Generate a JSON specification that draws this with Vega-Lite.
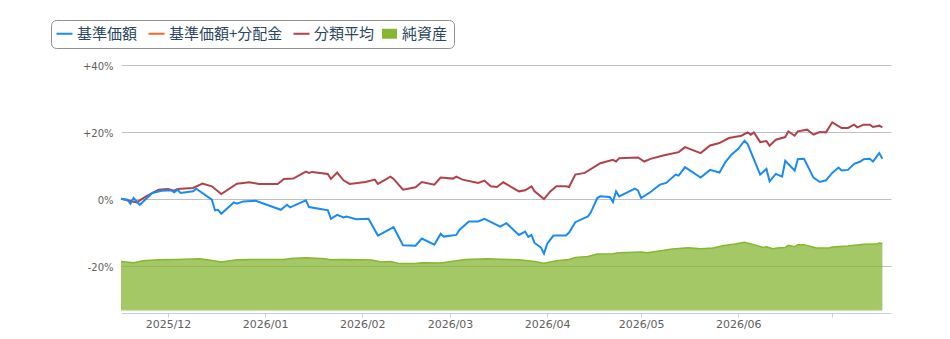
{
  "$schema": "https://vega.github.io/schema/vega-lite/v6.json",
  "width": 770,
  "height": 248,
  "autosize": {"type": "none"},
  "padding": {"left": 121, "top": 65, "right": 59, "bottom": 26},
  "background": "white",
  "config": {"view": {"stroke": null}, "font": "DejaVu Sans"},
  "data": {"values": [
    {"d": "2025/11/16", "s": "基準価額", "v": 0.1},
    {"d": "2025/11/18", "s": "基準価額", "v": -0.2},
    {"d": "2025/11/19", "s": "基準価額", "v": -1.4},
    {"d": "2025/11/20", "s": "基準価額", "v": 0.3},
    {"d": "2025/11/22", "s": "基準価額", "v": -1.7},
    {"d": "2025/11/26", "s": "基準価額", "v": 1.8},
    {"d": "2025/11/29", "s": "基準価額", "v": 2.5},
    {"d": "2025/12/02", "s": "基準価額", "v": 2.6},
    {"d": "2025/12/03", "s": "基準価額", "v": 2.0},
    {"d": "2025/12/04", "s": "基準価額", "v": 2.8},
    {"d": "2025/12/05", "s": "基準価額", "v": 1.8},
    {"d": "2025/12/09", "s": "基準価額", "v": 2.3},
    {"d": "2025/12/10", "s": "基準価額", "v": 3.1},
    {"d": "2025/12/15", "s": "基準価額", "v": -0.2},
    {"d": "2025/12/16", "s": "基準価額", "v": -3.4},
    {"d": "2025/12/17", "s": "基準価額", "v": -3.2},
    {"d": "2025/12/18", "s": "基準価額", "v": -4.4},
    {"d": "2025/12/22", "s": "基準価額", "v": -1.0},
    {"d": "2025/12/23", "s": "基準価額", "v": -1.4},
    {"d": "2025/12/25", "s": "基準価額", "v": -0.7},
    {"d": "2025/12/29", "s": "基準価額", "v": -0.5},
    {"d": "2026/01/06", "s": "基準価額", "v": -3.2},
    {"d": "2026/01/08", "s": "基準価額", "v": -1.7},
    {"d": "2026/01/09", "s": "基準価額", "v": -2.5},
    {"d": "2026/01/14", "s": "基準価額", "v": -0.4},
    {"d": "2026/01/15", "s": "基準価額", "v": -2.4},
    {"d": "2026/01/20", "s": "基準価額", "v": -3.2},
    {"d": "2026/01/21", "s": "基準価額", "v": -3.3},
    {"d": "2026/01/22", "s": "基準価額", "v": -5.9},
    {"d": "2026/01/24", "s": "基準価額", "v": -4.7},
    {"d": "2026/01/26", "s": "基準価額", "v": -5.5},
    {"d": "2026/01/27", "s": "基準価額", "v": -5.2},
    {"d": "2026/01/30", "s": "基準価額", "v": -6.0},
    {"d": "2026/02/03", "s": "基準価額", "v": -5.9},
    {"d": "2026/02/06", "s": "基準価額", "v": -10.9},
    {"d": "2026/02/11", "s": "基準価額", "v": -8.4},
    {"d": "2026/02/14", "s": "基準価額", "v": -13.8},
    {"d": "2026/02/18", "s": "基準価額", "v": -13.9},
    {"d": "2026/02/20", "s": "基準価額", "v": -11.8},
    {"d": "2026/02/24", "s": "基準価額", "v": -13.6},
    {"d": "2026/02/26", "s": "基準価額", "v": -10.4},
    {"d": "2026/02/27", "s": "基準価額", "v": -11.2},
    {"d": "2026/03/03", "s": "基準価額", "v": -10.7},
    {"d": "2026/03/04", "s": "基準価額", "v": -9.2},
    {"d": "2026/03/07", "s": "基準価額", "v": -6.7},
    {"d": "2026/03/10", "s": "基準価額", "v": -6.7},
    {"d": "2026/03/12", "s": "基準価額", "v": -5.9},
    {"d": "2026/03/17", "s": "基準価額", "v": -8.2},
    {"d": "2026/03/19", "s": "基準価額", "v": -7.2},
    {"d": "2026/03/23", "s": "基準価額", "v": -10.7},
    {"d": "2026/03/25", "s": "基準価額", "v": -9.7},
    {"d": "2026/03/26", "s": "基準価額", "v": -11.3},
    {"d": "2026/03/27", "s": "基準価額", "v": -10.7},
    {"d": "2026/03/28", "s": "基準価額", "v": -13.1},
    {"d": "2026/03/30", "s": "基準価額", "v": -14.4},
    {"d": "2026/03/31", "s": "基準価額", "v": -16.3},
    {"d": "2026/04/01", "s": "基準価額", "v": -13.4},
    {"d": "2026/04/03", "s": "基準価額", "v": -10.9},
    {"d": "2026/04/07", "s": "基準価額", "v": -10.9},
    {"d": "2026/04/08", "s": "基準価額", "v": -10.0},
    {"d": "2026/04/10", "s": "基準価額", "v": -6.9},
    {"d": "2026/04/14", "s": "基準価額", "v": -5.2},
    {"d": "2026/04/15", "s": "基準価額", "v": -3.9},
    {"d": "2026/04/17", "s": "基準価額", "v": 0.3},
    {"d": "2026/04/18", "s": "基準価額", "v": 0.8},
    {"d": "2026/04/21", "s": "基準価額", "v": 0.6},
    {"d": "2026/04/22", "s": "基準価額", "v": -0.9},
    {"d": "2026/04/23", "s": "基準価額", "v": 2.3},
    {"d": "2026/04/24", "s": "基準価額", "v": 0.8},
    {"d": "2026/04/29", "s": "基準価額", "v": 3.1},
    {"d": "2026/04/30", "s": "基準価額", "v": 2.6},
    {"d": "2026/05/01", "s": "基準価額", "v": 0.3},
    {"d": "2026/05/04", "s": "基準価額", "v": 2.1},
    {"d": "2026/05/07", "s": "基準価額", "v": 4.3},
    {"d": "2026/05/09", "s": "基準価額", "v": 4.8},
    {"d": "2026/05/12", "s": "基準価額", "v": 7.3},
    {"d": "2026/05/13", "s": "基準価額", "v": 7.0},
    {"d": "2026/05/15", "s": "基準価額", "v": 9.5},
    {"d": "2026/05/20", "s": "基準価額", "v": 6.4},
    {"d": "2026/05/23", "s": "基準価額", "v": 8.7},
    {"d": "2026/05/26", "s": "基準価額", "v": 7.9},
    {"d": "2026/05/28", "s": "基準価額", "v": 11.2},
    {"d": "2026/05/30", "s": "基準価額", "v": 13.4},
    {"d": "2026/06/01", "s": "基準価額", "v": 15.0},
    {"d": "2026/06/03", "s": "基準価額", "v": 17.4},
    {"d": "2026/06/04", "s": "基準価額", "v": 16.4},
    {"d": "2026/06/08", "s": "基準価額", "v": 7.3},
    {"d": "2026/06/10", "s": "基準価額", "v": 9.0},
    {"d": "2026/06/11", "s": "基準価額", "v": 5.3},
    {"d": "2026/06/13", "s": "基準価額", "v": 7.5},
    {"d": "2026/06/15", "s": "基準価額", "v": 6.7},
    {"d": "2026/06/16", "s": "基準価額", "v": 11.4},
    {"d": "2026/06/19", "s": "基準価額", "v": 8.5},
    {"d": "2026/06/20", "s": "基準価額", "v": 11.9},
    {"d": "2026/06/22", "s": "基準価額", "v": 12.0},
    {"d": "2026/06/25", "s": "基準価額", "v": 6.4},
    {"d": "2026/06/27", "s": "基準価額", "v": 5.1},
    {"d": "2026/06/29", "s": "基準価額", "v": 5.6},
    {"d": "2026/07/01", "s": "基準価額", "v": 7.8},
    {"d": "2026/07/03", "s": "基準価額", "v": 9.4},
    {"d": "2026/07/04", "s": "基準価額", "v": 8.5},
    {"d": "2026/07/06", "s": "基準価額", "v": 8.7},
    {"d": "2026/07/08", "s": "基準価額", "v": 10.5},
    {"d": "2026/07/10", "s": "基準価額", "v": 11.2},
    {"d": "2026/07/11", "s": "基準価額", "v": 11.9},
    {"d": "2026/07/13", "s": "基準価額", "v": 12.0},
    {"d": "2026/07/14", "s": "基準価額", "v": 11.2},
    {"d": "2026/07/16", "s": "基準価額", "v": 13.7},
    {"d": "2026/07/17", "s": "基準価額", "v": 12.0},

    {"d": "2025/11/16", "s": "分類平均", "v": 0.1},
    {"d": "2025/11/21", "s": "分類平均", "v": -1.0},
    {"d": "2025/11/24", "s": "分類平均", "v": 0.8},
    {"d": "2025/11/28", "s": "分類平均", "v": 2.8},
    {"d": "2025/12/01", "s": "分類平均", "v": 3.0},
    {"d": "2025/12/03", "s": "分類平均", "v": 2.5},
    {"d": "2025/12/04", "s": "分類平均", "v": 3.0},
    {"d": "2025/12/09", "s": "分類平均", "v": 3.3},
    {"d": "2025/12/12", "s": "分類平均", "v": 4.6},
    {"d": "2025/12/15", "s": "分類平均", "v": 3.8},
    {"d": "2025/12/18", "s": "分類平均", "v": 1.5},
    {"d": "2025/12/23", "s": "分類平均", "v": 4.6},
    {"d": "2025/12/27", "s": "分類平均", "v": 5.0},
    {"d": "2025/12/30", "s": "分類平均", "v": 4.5},
    {"d": "2026/01/05", "s": "分類平均", "v": 4.5},
    {"d": "2026/01/07", "s": "分類平均", "v": 6.0},
    {"d": "2026/01/10", "s": "分類平均", "v": 6.1},
    {"d": "2026/01/14", "s": "分類平均", "v": 8.2},
    {"d": "2026/01/15", "s": "分類平均", "v": 7.8},
    {"d": "2026/01/16", "s": "分類平均", "v": 8.1},
    {"d": "2026/01/21", "s": "分類平均", "v": 7.5},
    {"d": "2026/01/22", "s": "分類平均", "v": 6.0},
    {"d": "2026/01/24", "s": "分類平均", "v": 7.9},
    {"d": "2026/01/26", "s": "分類平均", "v": 5.6},
    {"d": "2026/01/28", "s": "分類平均", "v": 4.5},
    {"d": "2026/02/02", "s": "分類平均", "v": 5.1},
    {"d": "2026/02/05", "s": "分類平均", "v": 5.8},
    {"d": "2026/02/06", "s": "分類平均", "v": 4.5},
    {"d": "2026/02/10", "s": "分類平均", "v": 6.7},
    {"d": "2026/02/11", "s": "分類平均", "v": 6.0},
    {"d": "2026/02/14", "s": "分類平均", "v": 2.8},
    {"d": "2026/02/18", "s": "分類平均", "v": 3.5},
    {"d": "2026/02/20", "s": "分類平均", "v": 5.1},
    {"d": "2026/02/24", "s": "分類平均", "v": 4.3},
    {"d": "2026/02/26", "s": "分類平均", "v": 6.4},
    {"d": "2026/03/02", "s": "分類平均", "v": 6.1},
    {"d": "2026/03/03", "s": "分類平均", "v": 6.7},
    {"d": "2026/03/05", "s": "分類平均", "v": 5.8},
    {"d": "2026/03/10", "s": "分類平均", "v": 4.8},
    {"d": "2026/03/12", "s": "分類平均", "v": 5.5},
    {"d": "2026/03/14", "s": "分類平均", "v": 3.8},
    {"d": "2026/03/16", "s": "分類平均", "v": 3.6},
    {"d": "2026/03/18", "s": "分類平均", "v": 5.0},
    {"d": "2026/03/23", "s": "分類平均", "v": 2.3},
    {"d": "2026/03/25", "s": "分類平均", "v": 2.6},
    {"d": "2026/03/27", "s": "分類平均", "v": 3.8},
    {"d": "2026/03/28", "s": "分類平均", "v": 2.3},
    {"d": "2026/03/31", "s": "分類平均", "v": 0.0},
    {"d": "2026/04/02", "s": "分類平均", "v": 2.3},
    {"d": "2026/04/04", "s": "分類平均", "v": 3.8},
    {"d": "2026/04/07", "s": "分類平均", "v": 3.8},
    {"d": "2026/04/08", "s": "分類平均", "v": 3.6},
    {"d": "2026/04/10", "s": "分類平均", "v": 7.3},
    {"d": "2026/04/13", "s": "分類平均", "v": 7.8},
    {"d": "2026/04/18", "s": "分類平均", "v": 10.7},
    {"d": "2026/04/22", "s": "分類平均", "v": 11.7},
    {"d": "2026/04/23", "s": "分類平均", "v": 11.2},
    {"d": "2026/04/24", "s": "分類平均", "v": 12.2},
    {"d": "2026/04/30", "s": "分類平均", "v": 12.4},
    {"d": "2026/05/02", "s": "分類平均", "v": 11.2},
    {"d": "2026/05/04", "s": "分類平均", "v": 12.0},
    {"d": "2026/05/08", "s": "分類平均", "v": 13.0},
    {"d": "2026/05/13", "s": "分類平均", "v": 14.0},
    {"d": "2026/05/15", "s": "分類平均", "v": 15.5},
    {"d": "2026/05/20", "s": "分類平均", "v": 13.7},
    {"d": "2026/05/23", "s": "分類平均", "v": 16.0},
    {"d": "2026/05/26", "s": "分類平均", "v": 16.7},
    {"d": "2026/05/29", "s": "分類平均", "v": 18.2},
    {"d": "2026/06/02", "s": "分類平均", "v": 18.9},
    {"d": "2026/06/04", "s": "分類平均", "v": 19.9},
    {"d": "2026/06/05", "s": "分類平均", "v": 19.2},
    {"d": "2026/06/06", "s": "分類平均", "v": 19.9},
    {"d": "2026/06/08", "s": "分類平均", "v": 17.0},
    {"d": "2026/06/10", "s": "分類平均", "v": 17.3},
    {"d": "2026/06/11", "s": "分類平均", "v": 15.9},
    {"d": "2026/06/13", "s": "分類平均", "v": 17.7},
    {"d": "2026/06/16", "s": "分類平均", "v": 18.5},
    {"d": "2026/06/17", "s": "分類平均", "v": 20.2},
    {"d": "2026/06/19", "s": "分類平均", "v": 18.9},
    {"d": "2026/06/20", "s": "分類平均", "v": 20.2},
    {"d": "2026/06/23", "s": "分類平均", "v": 20.7},
    {"d": "2026/06/25", "s": "分類平均", "v": 19.2},
    {"d": "2026/06/27", "s": "分類平均", "v": 20.0},
    {"d": "2026/06/29", "s": "分類平均", "v": 19.9},
    {"d": "2026/07/01", "s": "分類平均", "v": 22.9},
    {"d": "2026/07/04", "s": "分類平均", "v": 21.2},
    {"d": "2026/07/06", "s": "分類平均", "v": 21.2},
    {"d": "2026/07/08", "s": "分類平均", "v": 22.2},
    {"d": "2026/07/09", "s": "分類平均", "v": 21.4},
    {"d": "2026/07/11", "s": "分類平均", "v": 22.2},
    {"d": "2026/07/13", "s": "分類平均", "v": 22.2},
    {"d": "2026/07/14", "s": "分類平均", "v": 21.5},
    {"d": "2026/07/16", "s": "分類平均", "v": 21.9},
    {"d": "2026/07/17", "s": "分類平均", "v": 21.4},

    {"d": "2025/11/16", "s": "純資産", "v": 18.8},
    {"d": "2025/11/20", "s": "純資産", "v": 18.3},
    {"d": "2025/11/23", "s": "純資産", "v": 19.1},
    {"d": "2025/11/28", "s": "純資産", "v": 19.5},
    {"d": "2025/12/04", "s": "純資産", "v": 19.6},
    {"d": "2025/12/11", "s": "純資産", "v": 19.9},
    {"d": "2025/12/14", "s": "純資産", "v": 19.4},
    {"d": "2025/12/18", "s": "純資産", "v": 18.6},
    {"d": "2025/12/23", "s": "純資産", "v": 19.5},
    {"d": "2025/12/28", "s": "純資産", "v": 19.6},
    {"d": "2026/01/07", "s": "純資産", "v": 19.6},
    {"d": "2026/01/09", "s": "純資産", "v": 20.0},
    {"d": "2026/01/14", "s": "純資産", "v": 20.3},
    {"d": "2026/01/20", "s": "純資産", "v": 19.9},
    {"d": "2026/01/22", "s": "純資産", "v": 19.5},
    {"d": "2026/01/26", "s": "純資産", "v": 19.6},
    {"d": "2026/02/04", "s": "純資産", "v": 19.4},
    {"d": "2026/02/07", "s": "純資産", "v": 18.6},
    {"d": "2026/02/10", "s": "純資産", "v": 18.8},
    {"d": "2026/02/13", "s": "純資産", "v": 18.0},
    {"d": "2026/02/18", "s": "純資産", "v": 18.0},
    {"d": "2026/02/20", "s": "純資産", "v": 18.3},
    {"d": "2026/02/26", "s": "純資産", "v": 18.2},
    {"d": "2026/03/03", "s": "純資産", "v": 19.1},
    {"d": "2026/03/06", "s": "純資産", "v": 19.6},
    {"d": "2026/03/13", "s": "純資産", "v": 19.9},
    {"d": "2026/03/17", "s": "純資産", "v": 19.7},
    {"d": "2026/03/23", "s": "純資産", "v": 19.5},
    {"d": "2026/03/28", "s": "純資産", "v": 18.8},
    {"d": "2026/03/31", "s": "純資産", "v": 18.1},
    {"d": "2026/04/04", "s": "純資産", "v": 19.1},
    {"d": "2026/04/08", "s": "純資産", "v": 19.6},
    {"d": "2026/04/10", "s": "純資産", "v": 20.4},
    {"d": "2026/04/14", "s": "純資産", "v": 20.7},
    {"d": "2026/04/17", "s": "純資産", "v": 21.7},
    {"d": "2026/04/22", "s": "純資産", "v": 21.8},
    {"d": "2026/04/24", "s": "純資産", "v": 22.2},
    {"d": "2026/05/01", "s": "純資産", "v": 22.5},
    {"d": "2026/05/03", "s": "純資産", "v": 22.2},
    {"d": "2026/05/11", "s": "純資産", "v": 23.6},
    {"d": "2026/05/16", "s": "純資産", "v": 24.1},
    {"d": "2026/05/20", "s": "純資産", "v": 23.7},
    {"d": "2026/05/24", "s": "純資産", "v": 24.0},
    {"d": "2026/05/27", "s": "純資産", "v": 24.9},
    {"d": "2026/05/31", "s": "純資産", "v": 25.5},
    {"d": "2026/06/03", "s": "純資産", "v": 26.2},
    {"d": "2026/06/06", "s": "純資産", "v": 25.3},
    {"d": "2026/06/09", "s": "純資産", "v": 24.2},
    {"d": "2026/06/10", "s": "純資産", "v": 24.5},
    {"d": "2026/06/12", "s": "純資産", "v": 23.7},
    {"d": "2026/06/14", "s": "純資産", "v": 24.1},
    {"d": "2026/06/16", "s": "純資産", "v": 24.2},
    {"d": "2026/06/17", "s": "純資産", "v": 25.0},
    {"d": "2026/06/19", "s": "純資産", "v": 24.5},
    {"d": "2026/06/20", "s": "純資産", "v": 25.3},
    {"d": "2026/06/22", "s": "純資産", "v": 25.3},
    {"d": "2026/06/26", "s": "純資産", "v": 24.0},
    {"d": "2026/06/30", "s": "純資産", "v": 24.0},
    {"d": "2026/07/01", "s": "純資産", "v": 24.4},
    {"d": "2026/07/06", "s": "純資産", "v": 24.8},
    {"d": "2026/07/11", "s": "純資産", "v": 25.4},
    {"d": "2026/07/15", "s": "純資産", "v": 25.5},
    {"d": "2026/07/16", "s": "純資産", "v": 25.9},
    {"d": "2026/07/17", "s": "純資産", "v": 25.7}
  ]},
  "layer": [
    {
      "transform": [{"filter": "datum.s === '純資産'"}],
      "mark": {"type": "area", "fillOpacity": 0.75, "line": {"strokeWidth": 1.5}},
      "encoding": {
        "x": {
          "field": "d", "type": "temporal",
          "scale": {"domain": [{"year": 2025, "month": 11, "date": 16}, {"year": 2026, "month": 7, "date": 19, "hours": 18}], "nice": false},
          "axis": {
            "title": null,
            "grid": false,
            "values": [
              {"year": 2025, "month": 12, "date": 1},
              {"year": 2026, "month": 1, "date": 1},
              {"year": 2026, "month": 2, "date": 1},
              {"year": 2026, "month": 3, "date": 1},
              {"year": 2026, "month": 4, "date": 1},
              {"year": 2026, "month": 5, "date": 1},
              {"year": 2026, "month": 6, "date": 1},
              {"year": 2026, "month": 7, "date": 1}
            ],
            "labelExpr": "month(datum.value) == 6 ? '' : timeFormat(datum.value, '%Y/%m')",
            "domainColor": "#c0d0e0",
            "tickColor": "#c0d0e0",
            "tickSize": 4,
            "labelPadding": 1.5,
            "labelFont": "DejaVu Sans",
            "labelFontSize": 11,
            "labelColor": "#606060",
            "labelFlush": false,
            "zindex": 0
          }
        },
        "y": {"field": "v", "type": "quantitative", "scale": {"domain": [-1, 94.4], "nice": false}, "axis": null},
        "color": {
          "field": "s", "type": "nominal",
          "scale": {"domain": ["基準価額", "基準価額+分配金", "分類平均", "純資産"], "range": ["#1a8bf0", "#f26a25", "#b0424a", "#86b632"]},
          "legend": {
            "orient": "none",
            "legendX": -70,
            "legendY": -45,
            "direction": "horizontal",
            "title": null,
            "labelFont": "Noto Sans CJK JP",
            "labelFontSize": 15,
            "labelColor": "#2b4660",
            "symbolSize": 256,
            "labelOffset": 5,
            "columnPadding": 6,
            "padding": 6,
            "strokeColor": "#909090",
            "cornerRadius": 5,
            "fillColor": "white",
            "encode": {
              "symbols": {
                "update": {
                  "shape": {"signal": "datum.value === '純資産' ? 'M-0.94,-0.62H0.94V0.62H-0.94Z' : 'stroke'"},
                  "fill": {"signal": "datum.value === '純資産' ? '#86b632' : 'transparent'"},
                  "stroke": {"scale": "color", "field": "value"},
                  "strokeWidth": {"signal": "datum.value === '純資産' ? 0 : 2"},
                  "opacity": {"value": 1}
                }
              }
            }
          }
        }
      }
    },
    {
      "transform": [{"filter": "datum.s === '分類平均'"}],
      "mark": {"type": "line", "strokeWidth": 2},
      "encoding": {
        "x": {"field": "d", "type": "temporal"},
        "y": {
          "field": "v", "type": "quantitative",
          "scale": {"domain": [-34, 40], "nice": false},
          "axis": {
            "orient": "left",
            "title": null,
            "grid": true,
            "values": [-20, 0, 20, 40],
            "labelExpr": "datum.value > 0 ? '+' + datum.value + '%' : datum.value + '%'",
            "domain": false,
            "ticks": false,
            "tickSize": 0,
            "labelPadding": 8,
            "labelOffset": 1.5,
            "labelFont": "DejaVu Sans",
            "labelFontSize": 10,
            "labelColor": "#606060",
            "gridColor": "#c0c0c0",
            "gridWidth": 1,
            "gridOpacity": 1,
            "zindex": 0
          }
        },
        "color": {"field": "s", "type": "nominal"}
      }
    },
    {
      "transform": [{"filter": "datum.s === '基準価額'"}],
      "mark": {"type": "line", "strokeWidth": 2},
      "encoding": {
        "x": {"field": "d", "type": "temporal"},
        "y": {"field": "v", "type": "quantitative", "scale": {"domain": [-34, 40], "nice": false}, "axis": null},
        "color": {"field": "s", "type": "nominal"}
      }
    }
  ],
  "resolve": {"scale": {"y": "independent"}}
}
